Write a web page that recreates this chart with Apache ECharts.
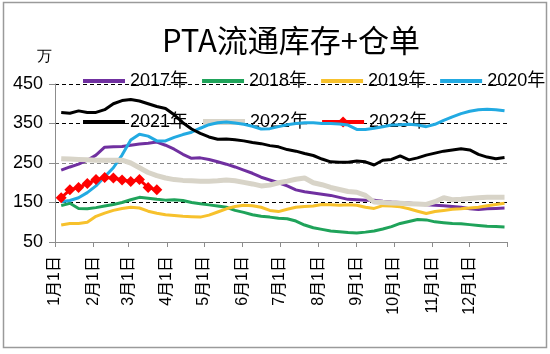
<!DOCTYPE html>
<html><head><meta charset="utf-8">
<script src="https://cdn.jsdelivr.net/npm/echarts@6/dist/echarts.min.js"></script>
<style>html,body{margin:0;padding:0;background:#fff}#c{width:550px;height:354px}</style>
</head><body><div id="c"></div>
<script>
// ---- data ----
const monthLengths = [31,28,31,30,31,30,31,31,30,31,30,31];
const seriesNames = ['2017年','2018年','2019年','2020年','2021年','2022年','2023年'];
// day-of-year index (0 = 1月1日) of each weekly observation
const weekDays = [5,12,19,26,33,40,47,54,61,68,75,82,89,96,103,110,117,124,131,138,145,152,159,166,173,180,187,194,201,208,215,222,229,236,243,250,257,264,271,278,285,292,299,306,313,320,327,334,341,348,355,362];
const v2017 = [232,240,247,257,270,290,291,292,295,298,300,303,295,285,272,262,263,259,253,247,240,232,224,214,207,200,192,182,177,174,171,168,163,158,157,156,156,153,151,150,149,146,144,143,142,140,138,134,132,134,135,136];
const v2018 = [142,148,135,134,137,141,145,150,157,163,161,158,156,157,155,150,147,144,141,138,130,125,119,115,113,110,109,103,93,86,82,78,76,74,73,75,78,83,89,97,102,107,106,101,99,97,96,94,92,90,89,88];
const v2019 = [93,97,97,100,115,123,130,135,138,136,128,123,119,117,115,114,113,118,126,134,140,143,142,138,130,127,133,138,140,141,145,144,143,144,143,138,135,142,141,139,134,128,122,127,130,133,134,136,138,142,145,148];
const v2020 = [152,155,162,175,192,215,238,270,308,323,318,306,306,315,322,328,338,347,352,354,351,348,343,336,337,342,347,350,352,352,350,350,349,346,335,335,338,342,346,347,348,346,342,348,358,367,375,381,385,386,385,382];
const v2021 = [378,376,382,378,378,385,400,408,411,407,400,393,388,372,352,336,325,316,310,311,309,306,302,299,294,291,284,280,274,269,260,253,252,252,255,253,245,257,259,268,258,263,270,275,280,283,286,283,272,265,261,264];
const v2022 = [261,260,259,258,257,257,257,257,250,238,226,218,212,208,206,205,204,204,205,207,205,201,197,192,194,200,204,209,212,200,195,188,183,178,176,168,151,150,149,148,147,146,145,152,162,157,158,160,162,163,163,163];
const v2023 = [162,182,188,198,208,213,212,207,203,208,188,182];
const yMin = 50, yMax = 450, yStep = 100;

// ---- categories (one per day) ----
const dayLabels = [];
monthLengths.forEach((len, m) => { for (let d = 1; d <= len; d++) dayLabels.push((m + 1) + '月' + d + '日'); });

const pairs = vals => vals.map((v, i) => [weekDays[i], v]);
const colors = ['#7030A0','#1FA35A','#F7C12C','#22AAE2','#000000','#D8D4C8','#FF0000'];
const widths = [3,3,3,3,3,5,3];
const values = [v2017,v2018,v2019,v2020,v2021,v2022,v2023];
const FONT = "'Liberation Sans','Noto Sans CJK SC',sans-serif";

const series = values.map((vals, i) => ({
  name: seriesNames[i], type: 'line', data: pairs(vals),
  symbol: i === 6 ? 'diamond' : 'none', symbolSize: i === 6 ? 11 : 0,
  showSymbol: i === 6, showAllSymbol: true,
  lineStyle: { color: colors[i], width: widths[i] }, itemStyle: { color: colors[i] },
  z: 2 + i, animation: false
}));

const legendItem = (name, i) => i === 6
  ? { name, lineStyle: { width: 4 } }
  : { name, itemStyle: { opacity: 0 }, lineStyle: { width: i === 5 ? 6 : 4 } };

const legendBase = {
  itemWidth: 42, itemHeight: 14, itemGap: 12, left: 76, width: 474,
  textStyle: { fontSize: 18, color: '#000', fontFamily: FONT },
  selectedMode: false
};

const chart = echarts.init(document.getElementById('c'), null, { renderer: 'canvas' });
chart.setOption({
  animation: false,
  backgroundColor: '#fff',
  title: { text: 'PTA流通库存+仓单', left: 157, top: 20,
    textStyle: { fontSize: 31, fontWeight: 'normal', color: '#000', fontFamily: "'Noto Sans CJK SC',sans-serif" } },
  legend: [
    Object.assign({}, legendBase, { data: seriesNames.slice(0, 4).map((n, i) => legendItem(n, i)), top: 67 }),
    Object.assign({}, legendBase, { data: seriesNames.slice(4).map((n, i) => legendItem(n, i + 4)), top: 108 })
  ],
  grid: { left: 55, right: 43, top: 84, bottom: 112, containLabel: false },
  xAxis: {
    type: 'category', data: dayLabels, boundaryGap: false,
    axisLine: { lineStyle: { color: '#8c8c8c', width: 1 } },
    axisTick: { show: true, length: 5, lineStyle: { color: '#8c8c8c' },
      interval: (idx, val) => /月1日$/.test(val) || idx === dayLabels.length - 1 },
    axisLabel: { rotate: 90, margin: 14, fontSize: 16, color: '#000', fontFamily: FONT,
      interval: (idx, val) => /月1日$/.test(val) },
    splitLine: { show: false }
  },
  yAxis: {
    type: 'value', min: yMin, max: yMax, interval: yStep,
    axisLine: { show: true, lineStyle: { color: '#8c8c8c' } },
    axisTick: { show: true, length: 6, lineStyle: { color: '#8c8c8c' } },
    axisLabel: { margin: 12, fontSize: 18, color: '#000', fontFamily: FONT },
    splitLine: { show: true, lineStyle: { color: ['#000','#000','#888','#000','#000'], type: [4, 3], width: 1 } }
  },
  graphic: [
    { type: 'rect', shape: { x: 3.5, y: 2.5, width: 543, height: 345 },
      style: { fill: 'none', stroke: '#9a9a9a', lineWidth: 1.5 }, silent: true, z: 100 },
    { type: 'text', x: 44, y: 57, style: { text: '万', fontSize: 15, fill: '#000', align: 'center', verticalAlign: 'middle',
      font: "15px 'Noto Sans CJK SC',sans-serif" } }
  ],
  series: series
});
</script></body></html>
